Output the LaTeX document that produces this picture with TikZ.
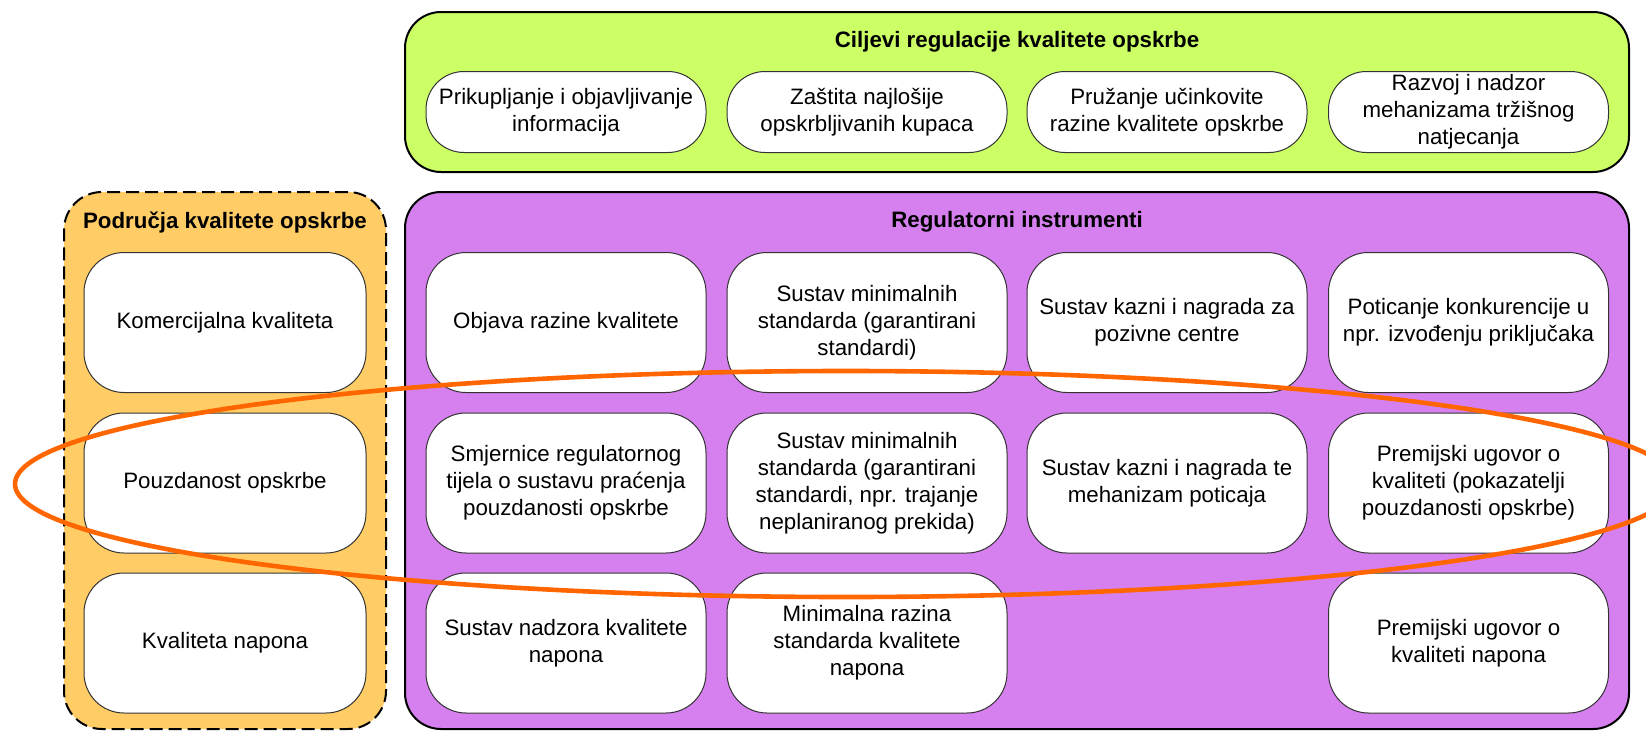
\documentclass[tikz,border=0pt]{standalone}
\usepackage{fontspec}
\setmainfont{Liberation Sans}
\definecolor{goalfill}{HTML}{CCFF66}
\definecolor{areafill}{HTML}{FFCC66}
\definecolor{instrfill}{HTML}{D580EE}
\definecolor{ringcol}{HTML}{FF6600}
\newcommand{\itemfont}{\fontsize{22.3}{27}\selectfont}
\newcommand{\headfont}{\fontsize{22.3}{27}\selectfont\bfseries}
\tikzset{
  panel/.style={draw=black, line width=2pt, rounded corners=36pt, inner sep=0pt},
  areapanel/.style={draw=black, line width=2pt, dash pattern=on 13pt off 6pt,
    rounded corners=38pt, inner sep=0pt, fill=areafill},
  item/.style={draw=black!80, line width=1pt, fill=white, rounded corners=40pt,
    minimum width=280pt, minimum height=140pt, align=center, inner sep=0pt,
    font=\itemfont},
  goal/.style={item, minimum height=81pt, rounded corners=38pt},
  area/.style={item, minimum width=282pt},
  head/.style={font=\headfont, inner sep=0pt},
  ring/.style={draw=ringcol, line width=4.6pt},
}
\begin{document}
\begin{tikzpicture}[x=1pt, y=-1pt]
\useasboundingbox (0,0) rectangle (1646,731);
\clip (0,0) rectangle (1646,731);

% panels
\node (goals) [panel, fill=goalfill, minimum width=1224pt, minimum height=160pt] at (1017,92) {};
\node (areas) [areapanel, minimum width=322pt, minimum height=537pt] at (225,460.5) {};
\node (instr) [panel, fill=instrfill, minimum width=1224pt, minimum height=537pt] at (1017,460.5) {};

% panel titles
\node (goalshead) [head] at (1017,42) {Ciljevi regulacije kvalitete opskrbe};
\node (areashead) [head] at (225,222) {Područja kvalitete opskrbe};
\node (instrhead) [head] at (1017,222) {Regulatorni instrumenti};

% goals
\node (g1) [goal] at (566,112) {Prikupljanje i objavljivanje\\informacija};
\node (g2) [goal] at (867,112) {Zaštita najlošije\\opskrbljivanih kupaca};
\node (g3) [goal] at (1167,112) {Pružanje učinkovite\\razine kvalitete opskrbe};
\node (g4) [goal] at (1468.5,112) {Razvoj i nadzor\\mehanizama tržišnog\\natjecanja};

% areas
\node (a1) [area] at (225,322.5) {Komercijalna kvaliteta};
\node (a2) [area] at (225,483) {Pouzdanost opskrbe};
\node (a3) [area] at (225,643) {Kvaliteta napona};

% instruments, row 1
\node (r11) [item] at (566,322.5) {Objava razine kvalitete};
\node (r12) [item] at (867,322.5) {Sustav minimalnih\\standarda (garantirani\\standardi)};
\node (r13) [item] at (1167,322.5) {Sustav kazni i nagrada za\\pozivne centre};
\node (r14) [item] at (1468.5,322.5) {Poticanje konkurencije u\\npr. izvođenju priključaka};

% instruments, row 2
\node (r21) [item] at (566,483) {Smjernice regulatornog\\tijela o sustavu praćenja\\pouzdanosti opskrbe};
\node (r22) [item] at (867,483) {Sustav minimalnih\\standarda (garantirani\\standardi, npr. trajanje\\neplaniranog prekida)};
\node (r23) [item] at (1167,483) {Sustav kazni i nagrada te\\mehanizam poticaja};
\node (r24) [item] at (1468.5,483) {Premijski ugovor o\\kvaliteti (pokazatelji\\pouzdanosti opskrbe)};

% instruments, row 3
\node (r31) [item] at (566,643) {Sustav nadzora kvalitete\\napona};
\node (r32) [item] at (867,643) {Minimalna razina\\standarda kvalitete\\napona};
\node (r34) [item] at (1468.5,643) {Premijski ugovor o\\kvaliteti napona};

% reliability row highlight
\draw[ring] (846,484) ellipse [x radius=831pt, y radius=113pt];
\end{tikzpicture}
\end{document}
